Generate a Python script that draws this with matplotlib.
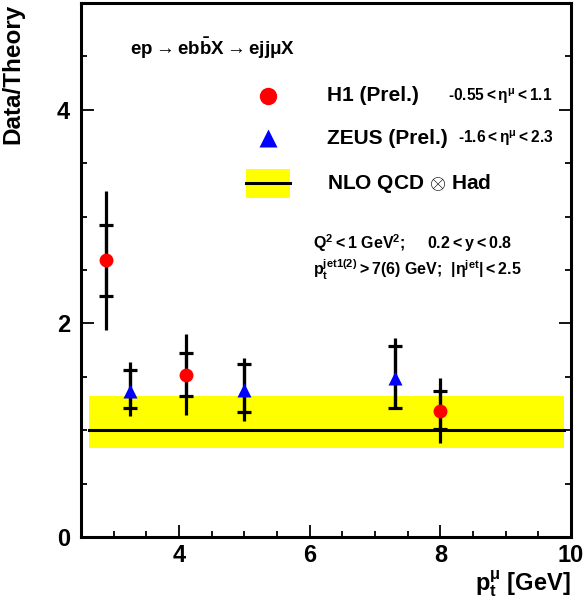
import numpy as np
import matplotlib
matplotlib.use('Agg')
import matplotlib.pyplot as plt
from matplotlib.patches import Rectangle
from matplotlib.lines import Line2D
from matplotlib.ticker import MultipleLocator

plt.rcParams['font.family'] = ['Liberation Sans', 'DejaVu Sans']
plt.rcParams['font.weight'] = 'bold'
plt.rcParams['mathtext.fontset'] = 'custom'
plt.rcParams['mathtext.rm'] = 'Liberation Sans:bold'
plt.rcParams['mathtext.bf'] = 'Liberation Sans:bold'
plt.rcParams['mathtext.it'] = 'Liberation Sans:bold'
plt.rcParams['mathtext.default'] = 'rm'

# H1 (Prel.)
h1_x = [2.875, 4.1, 8.0]
h1_y = [2.59, 1.52, 1.18]
h1_stat_lo = [0.33, 0.20, 0.17]
h1_stat_hi = [0.33, 0.20, 0.19]
h1_tot_lo = [0.65, 0.38, 0.30]
h1_tot_hi = [0.65, 0.38, 0.31]

# ZEUS (Prel.)
zeus_x = [3.25, 5.0, 7.3]
zeus_y = [1.37, 1.38, 1.49]
zeus_stat_lo = [0.16, 0.21, 0.28]
zeus_stat_hi = [0.19, 0.24, 0.30]
zeus_tot_lo = [0.24, 0.29, 0.28]
zeus_tot_hi = [0.27, 0.30, 0.37]

# NLO QCD x Had
nlo_x = [2.62, 9.9]
nlo_y = [1.0, 1.0]
nlo_lo = [0.83, 0.83]
nlo_hi = [1.32, 1.32]

fig = plt.figure(figsize=(5.84, 6.09), dpi=100)
ax = fig.add_axes([81 / 584, 1 - 537 / 609, 490 / 584, 534 / 609])

ax.fill_between(nlo_x, nlo_lo, nlo_hi, color='#ffff00', lw=0, zorder=1)
ax.plot(nlo_x, nlo_y, color='black', lw=2.2, zorder=2)

lw = 2.3
for xs, ys, slo, shi, tlo, thi in [
        (h1_x, h1_y, h1_stat_lo, h1_stat_hi, h1_tot_lo, h1_tot_hi),
        (zeus_x, zeus_y, zeus_stat_lo, zeus_stat_hi, zeus_tot_lo, zeus_tot_hi)]:
    ax.errorbar(xs, ys, yerr=[tlo, thi], fmt='none', ecolor='black',
                elinewidth=lw, capsize=0, zorder=3)
    ax.errorbar(xs, ys, yerr=[slo, shi], fmt='none', ecolor='black',
                elinewidth=lw, capsize=4.8, capthick=lw, zorder=3)

ax.plot(h1_x, h1_y, 'o', color='#ff0000', ms=10, mec='none', zorder=4)
ax.plot(zeus_x, zeus_y, '^', color='#0000ff', ms=9.5, mec='none', zorder=4)

ax.set_xlim(2.5, 10)
ax.set_ylim(0, 5)
ax.xaxis.set_major_locator(MultipleLocator(2))
ax.xaxis.set_minor_locator(MultipleLocator(0.5))
ax.yaxis.set_major_locator(MultipleLocator(2))
ax.yaxis.set_minor_locator(MultipleLocator(0.5))
ax.tick_params(which='both', direction='in', top=False, right=True, width=1.3)
ax.tick_params(which='major', length=9, labelsize=17)
ax.tick_params(axis='x', which='major', pad=5)
ax.tick_params(axis='y', which='major', pad=8)
ax.tick_params(which='minor', length=4.5)
for lab in ax.get_xticklabels() + ax.get_yticklabels():
    lab.set_fontweight('bold')
for s in ax.spines.values():
    s.set_linewidth(2.2)

ax.set_ylabel('Data/Theory', fontsize=17.5, fontweight='bold', loc='top')
ax.yaxis.set_label_coords(-0.116, 0.998)
ax.set_xlabel(r'p$_\mathrm{t}^{\mu}$ [GeV]', fontsize=17, fontweight='bold',
              loc='right', labelpad=1)

# legend / annotations
T = ax.transAxes
ax.text(0.1, 0.914, r'ep$\rightarrow$eb$\bar{\mathrm{b}}$X$\rightarrow$ejj$\mu$X',
        transform=T, fontsize=13.5, va='center', ha='left')
ax.add_line(Line2D([0.382], [0.826], marker='o', color='#ff0000', ms=12.5,
                   mec='none', transform=T))
ax.add_line(Line2D([0.382], [0.747], marker='^', color='#0000ff', ms=12.5,
                   mec='none', transform=T))
ax.add_patch(Rectangle((0.337, 0.635), 0.09, 0.054, transform=T,
                       color='#ffff00', lw=0))
ax.add_line(Line2D([0.337, 0.427], [0.662, 0.662], color='black', lw=2.2,
                   transform=T))
ax.text(0.502, 0.826, 'H1 (Prel.)', transform=T, fontsize=15, va='center')
ax.text(0.502, 0.747, 'ZEUS (Prel.)', transform=T, fontsize=15, va='center')
ax.text(0.502, 0.662, r'NLO QCD $\otimes$ Had', transform=T, fontsize=15,
        va='center')
ax.text(0.749, 0.826, r'-0.55$<\eta^{\mu}<$1.1', transform=T, fontsize=11.2,
        va='center')
ax.text(0.769, 0.747, r'-1.6$<\eta^{\mu}<$2.3', transform=T, fontsize=11.2,
        va='center')
ax.text(0.473, 0.551, r'Q$^2<$1 GeV$^2$;     0.2$<$y$<$0.8', transform=T,
        fontsize=11.5, va='center')
ax.text(0.473, 0.5, r'p$_\mathrm{t}^{\mathrm{jet1(2)}}>$7(6) GeV;  |$\eta^{\mathrm{jet}}$|$<$2.5',
        transform=T, fontsize=11.5, va='center')

fig.savefig('out.png', dpi=100)
